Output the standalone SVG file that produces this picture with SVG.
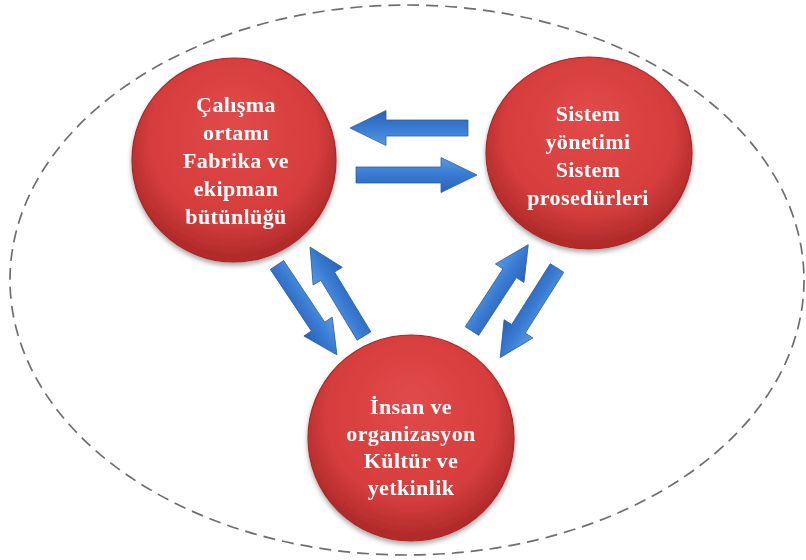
<svg xmlns="http://www.w3.org/2000/svg" width="806" height="560" viewBox="0 0 806 560">
<style>
.lbl{font-family:"Liberation Serif","Times New Roman",serif;font-weight:bold;font-size:22px;letter-spacing:0.4px;fill:#ffffff;text-anchor:middle}
.node{fill:url(#red);stroke:#a82828;stroke-width:1.2}
.arr{fill:url(#blue);stroke:#2b5fa6;stroke-width:0.8}
</style>
<defs>
<radialGradient id="red" cx="50%" cy="42%" r="55%" fx="50%" fy="30%">
<stop offset="0" stop-color="#e24a4a"/>
<stop offset="0.75" stop-color="#d63d3d"/>
<stop offset="1" stop-color="#b22b2b"/>
</radialGradient>
<linearGradient id="blue" x1="0" y1="0" x2="0" y2="1">
<stop offset="0" stop-color="#5b9ae2"/>
<stop offset="0.45" stop-color="#3a7dd4"/>
<stop offset="1" stop-color="#2a62b6"/>
</linearGradient>
<filter id="sh" x="-20%" y="-20%" width="140%" height="140%">
<feGaussianBlur in="SourceAlpha" stdDeviation="2.5"/>
<feOffset dx="0" dy="3" result="b"/>
<feComponentTransfer><feFuncA type="linear" slope="0.35"/></feComponentTransfer>
<feMerge><feMergeNode/><feMergeNode in="SourceGraphic"/></feMerge>
</filter>
</defs>
<rect width="806" height="560" fill="#ffffff"/>
<ellipse cx="407" cy="280" rx="397" ry="275" fill="none" stroke="#6e6e6e" stroke-width="1.7" stroke-dasharray="12 7"/>
<g id="connectors">
<polygon class="arr" transform="translate(468,128) rotate(180)" points="0,-8 82,-8 82,-17.5 118,0 82,17.5 82,8 0,8"/>
<polygon class="arr" transform="translate(356,175)" points="0,-8 85,-8 85,-17.5 121,0 85,17.5 85,8 0,8"/>
<polygon class="arr" transform="translate(277,265) rotate(56.3)" points="0,-8 74,-8 74,-17 108,0 74,17 74,8 0,8"/>
<polygon class="arr" transform="translate(364,336) rotate(-121.25)" points="0,-8 70,-8 70,-17 104,0 70,17 70,8 0,8"/>
<polygon class="arr" transform="translate(472,331) rotate(-56.9)" points="0,-8 69,-8 69,-17 103,0 69,17 69,8 0,8"/>
<polygon class="arr" transform="translate(557,268) rotate(122.35)" points="0,-8 72,-8 72,-17 106,0 72,17 72,8 0,8"/>
</g>
<g id="node-calisma" filter="url(#sh)">
<circle class="node" cx="234" cy="160" r="102"/>
<text class="lbl" x="236" y="112">Çalışma</text>
<text class="lbl" x="236" y="140">ortamı</text>
<text class="lbl" x="236" y="168">Fabrika ve</text>
<text class="lbl" x="236" y="196">ekipman</text>
<text class="lbl" x="236" y="224">bütünlüğü</text>
</g>
<g id="node-sistem" filter="url(#sh)">
<ellipse class="node" cx="589" cy="153" rx="103" ry="96"/>
<text class="lbl" x="588" y="121">Sistem</text>
<text class="lbl" x="588" y="149">yönetimi</text>
<text class="lbl" x="588" y="177">Sistem</text>
<text class="lbl" x="588" y="205">prosedürleri</text>
</g>
<g id="node-insan" filter="url(#sh)">
<circle class="node" cx="411" cy="438" r="103"/>
<text class="lbl" x="411" y="414">İnsan ve</text>
<text class="lbl" x="411" y="441">organizasyon</text>
<text class="lbl" x="411" y="468">Kültür ve</text>
<text class="lbl" x="411" y="495">yetkinlik</text>
</g>
</svg>
